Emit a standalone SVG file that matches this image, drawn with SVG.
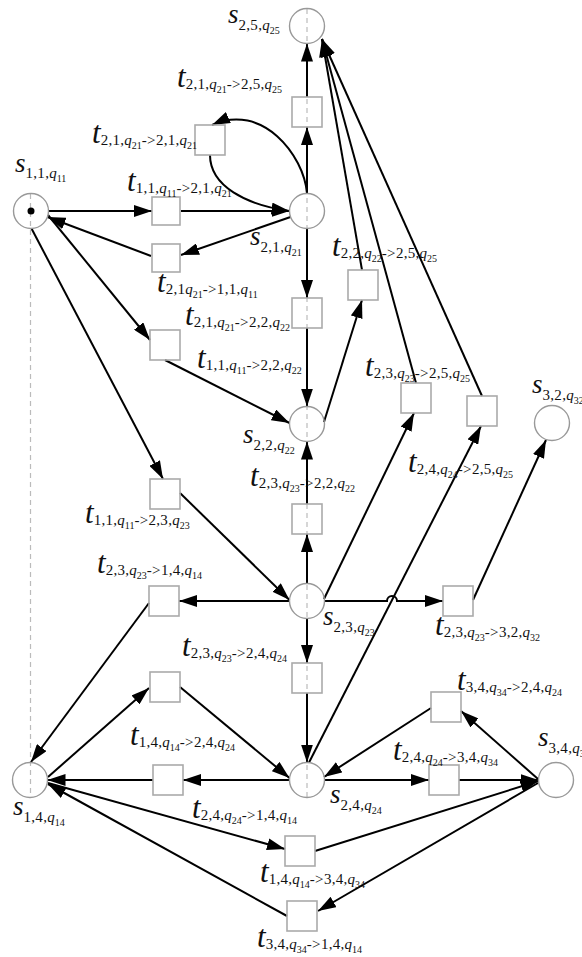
<svg xmlns="http://www.w3.org/2000/svg" width="582" height="957" viewBox="0 0 582 957">
<style>
.pl{fill:none;stroke:#999;stroke-width:1.4}
.tr{fill:none;stroke:#aaa;stroke-width:1.6}
.ar{fill:none;stroke:#000;stroke-width:2;marker-end:url(#ah)}
.dash{fill:none;stroke:#bbb;stroke-width:1.2;stroke-dasharray:5 4}
text{font-family:"Liberation Serif","Times New Roman",serif;fill:#111}
.m{font-size:27px;font-style:italic}
.tt{font-size:31px;font-style:italic}
.u{font-size:15px;font-style:normal;letter-spacing:0.3px}
.i{font-size:15px;font-style:italic}
.v{font-size:10px;font-style:normal}
</style>
<defs>
<marker id="ah" viewBox="0 0 18 12" refX="18" refY="6" markerWidth="18" markerHeight="12" markerUnits="userSpaceOnUse" orient="auto"><path d="M0,0 L18,6 L0,12 z" fill="#000"/></marker>
</defs>
<g id="guides">
<line class="dash" x1="307" y1="9" x2="307" y2="797"/>
<line class="dash" x1="30.5" y1="194" x2="30.5" y2="797"/>
</g>
<g id="connectors">
<line class="ar" x1="48.5" y1="211" x2="152" y2="211"/>
<line class="ar" x1="181" y1="211" x2="289.5" y2="211"/>
<line class="ar" x1="290.5" y1="217" x2="181" y2="255"/>
<line class="ar" x1="151" y1="256" x2="47.5" y2="217"/>
<line class="ar" x1="48" y1="215" x2="150" y2="340"/>
<line class="ar" x1="31.5" y1="228.5" x2="163" y2="479"/>
<line class="ar" x1="165" y1="360" x2="289.5" y2="423"/>
<line class="ar" x1="180" y1="493" x2="289.5" y2="600"/>
<path class="ar" d="M307,193.5 C304,155 262,102 212,125"/>
<path class="ar" d="M210,155 C210,186 246,205 289.5,211"/>
<line class="ar" x1="307" y1="193.5" x2="307" y2="127"/>
<line class="ar" x1="307" y1="97" x2="307" y2="43.5"/>
<line class="ar" x1="307" y1="228.5" x2="307" y2="298"/>
<line class="ar" x1="307" y1="328" x2="307" y2="406.5"/>
<line class="ar" x1="324" y1="422" x2="362" y2="300"/>
<line class="ar" x1="362" y1="270" x2="322" y2="39"/>
<line class="ar" x1="416" y1="383" x2="322" y2="39"/>
<line class="ar" x1="482" y1="396" x2="322" y2="39"/>
<line class="ar" x1="307" y1="583.5" x2="307" y2="534"/>
<line class="ar" x1="307" y1="504" x2="307" y2="441.5"/>
<line class="ar" x1="324" y1="599" x2="414" y2="413"/>
<line class="ar" x1="309" y1="762.5" x2="481" y2="426"/>
<line class="ar" x1="289.5" y1="601" x2="179" y2="601"/>
<path class="ar" d="M324.5,601 H387 a5,5 0 0 1 10,0 H443"/>
<line class="ar" x1="473" y1="600" x2="546" y2="440"/>
<line class="ar" x1="307" y1="618.5" x2="307" y2="663"/>
<line class="ar" x1="307" y1="693" x2="307" y2="762.5"/>
<line class="ar" x1="149" y1="603" x2="31" y2="762"/>
<line class="ar" x1="48" y1="777" x2="149" y2="688"/>
<line class="ar" x1="180" y1="687" x2="289.5" y2="778"/>
<line class="ar" x1="289.5" y1="780" x2="183" y2="780"/>
<line class="ar" x1="153" y1="780" x2="47.5" y2="780"/>
<line class="ar" x1="324.5" y1="780" x2="429" y2="780"/>
<line class="ar" x1="459" y1="780" x2="538.5" y2="780"/>
<line class="ar" x1="538" y1="779" x2="461" y2="711"/>
<line class="ar" x1="431" y1="708" x2="324" y2="777"/>
<line class="ar" x1="48" y1="783" x2="285" y2="849"/>
<line class="ar" x1="315" y1="851" x2="538.5" y2="781"/>
<line class="ar" x1="538" y1="783" x2="318" y2="911"/>
<line class="ar" x1="287" y1="916" x2="48" y2="784"/>
</g>
<g id="s11"><circle class="pl" cx="31" cy="211" r="17.5"/><circle cx="31" cy="211" r="3.5" fill="#000"/>
<text x="15" y="172"><tspan class="m">s</tspan><tspan class="u" dy="6">1,1,</tspan><tspan class="i">q</tspan><tspan class="v" dy="4">11</tspan></text></g>
<g id="s25"><circle class="pl" cx="307" cy="26" r="17.5"/>
<text x="228" y="23"><tspan class="m">s</tspan><tspan class="u" dy="7">2,5,</tspan><tspan class="i">q</tspan><tspan class="v" dy="4">25</tspan></text></g>
<g id="s21"><circle class="pl" cx="307" cy="211" r="17.5"/>
<text x="250" y="245"><tspan class="m">s</tspan><tspan class="u" dy="7">2,1,</tspan><tspan class="i">q</tspan><tspan class="v" dy="4">21</tspan></text></g>
<g id="s22"><circle class="pl" cx="307" cy="424" r="17.5"/>
<text x="243" y="443"><tspan class="m">s</tspan><tspan class="u" dy="7">2,2,</tspan><tspan class="i">q</tspan><tspan class="v" dy="4">22</tspan></text></g>
<g id="s23"><circle class="pl" cx="307" cy="601" r="17.5"/>
<text x="323" y="625"><tspan class="m">s</tspan><tspan class="u" dy="7">2,3,</tspan><tspan class="i">q</tspan><tspan class="v" dy="4">23</tspan></text></g>
<g id="s24"><circle class="pl" cx="307" cy="780" r="17.5"/>
<text x="330" y="803"><tspan class="m">s</tspan><tspan class="u" dy="7">2,4,</tspan><tspan class="i">q</tspan><tspan class="v" dy="4">24</tspan></text></g>
<g id="s14"><circle class="pl" cx="30" cy="780" r="17.5"/>
<text x="13" y="815"><tspan class="m">s</tspan><tspan class="u" dy="7">1,4,</tspan><tspan class="i">q</tspan><tspan class="v" dy="4">14</tspan></text></g>
<g id="s32"><circle class="pl" cx="552" cy="423" r="17.5"/>
<text x="532" y="393"><tspan class="m">s</tspan><tspan class="u" dy="7">3,2,</tspan><tspan class="i">q</tspan><tspan class="v" dy="4">32</tspan></text></g>
<g id="s34"><circle class="pl" cx="556" cy="780" r="17.5"/>
<text x="538" y="746"><tspan class="m">s</tspan><tspan class="u" dy="7">3,4,</tspan><tspan class="i">q</tspan><tspan class="v" dy="4">34</tspan></text></g>
<g id="t11_21"><rect class="tr" x="152" y="197" width="28" height="28"/>
<text x="127" y="191"><tspan class="tt">t</tspan><tspan class="u" dy="2">1,1,</tspan><tspan class="i">q</tspan><tspan class="v" dy="4">11</tspan><tspan class="u" dy="-4">-&gt;2,1,</tspan><tspan class="i">q</tspan><tspan class="v" dy="4">21</tspan></text></g>
<g id="t21_21"><rect class="tr" x="195" y="125" width="30" height="30"/>
<text x="92" y="143"><tspan class="tt">t</tspan><tspan class="u" dy="2">2,1,</tspan><tspan class="i">q</tspan><tspan class="v" dy="4">21</tspan><tspan class="u" dy="-4">-&gt;2,1,</tspan><tspan class="i">q</tspan><tspan class="v" dy="4">21</tspan></text></g>
<g id="t21_25"><rect class="tr" x="292" y="97" width="30" height="30"/>
<text x="177" y="87"><tspan class="tt">t</tspan><tspan class="u" dy="2">2,1,</tspan><tspan class="i">q</tspan><tspan class="v" dy="4">21</tspan><tspan class="u" dy="-4">-&gt;2,5,</tspan><tspan class="i">q</tspan><tspan class="v" dy="4">25</tspan></text></g>
<g id="t21_11"><rect class="tr" x="152" y="244" width="28" height="28"/>
<text x="157" y="292"><tspan class="tt">t</tspan><tspan class="u" dy="2">2,1</tspan><tspan class="i">q</tspan><tspan class="v" dy="4">21</tspan><tspan class="u" dy="-4">-&gt;1,1,</tspan><tspan class="i">q</tspan><tspan class="v" dy="4">11</tspan></text></g>
<g id="t21_22"><rect class="tr" x="292" y="298" width="30" height="30"/>
<text x="185" y="325"><tspan class="tt">t</tspan><tspan class="u" dy="2">2,1,</tspan><tspan class="i">q</tspan><tspan class="v" dy="4">21</tspan><tspan class="u" dy="-4">-&gt;2,2,</tspan><tspan class="i">q</tspan><tspan class="v" dy="4">22</tspan></text></g>
<g id="t22_25"><rect class="tr" x="348" y="270" width="30" height="30"/>
<text x="332" y="256"><tspan class="tt">t</tspan><tspan class="u" dy="2">2,2,</tspan><tspan class="i">q</tspan><tspan class="v" dy="4">22</tspan><tspan class="u" dy="-4">-&gt;2,5,</tspan><tspan class="i">q</tspan><tspan class="v" dy="4">25</tspan></text></g>
<g id="t11_22"><rect class="tr" x="150" y="330" width="30" height="30"/>
<text x="197" y="368"><tspan class="tt">t</tspan><tspan class="u" dy="2">1,1,</tspan><tspan class="i">q</tspan><tspan class="v" dy="4">11</tspan><tspan class="u" dy="-4">-&gt;2,2,</tspan><tspan class="i">q</tspan><tspan class="v" dy="4">22</tspan></text></g>
<g id="t23_25"><rect class="tr" x="401" y="383" width="30" height="30"/>
<text x="365" y="376"><tspan class="tt">t</tspan><tspan class="u" dy="2">2,3,</tspan><tspan class="i">q</tspan><tspan class="v" dy="4">23</tspan><tspan class="u" dy="-4">-&gt;2,5,</tspan><tspan class="i">q</tspan><tspan class="v" dy="4">25</tspan></text></g>
<g id="t24_25"><rect class="tr" x="467" y="396" width="30" height="30"/>
<text x="408" y="472"><tspan class="tt">t</tspan><tspan class="u" dy="2">2,4,</tspan><tspan class="i">q</tspan><tspan class="v" dy="4">24</tspan><tspan class="u" dy="-4">-&gt;2,5,</tspan><tspan class="i">q</tspan><tspan class="v" dy="4">25</tspan></text></g>
<g id="t11_23"><rect class="tr" x="150" y="479" width="30" height="30"/>
<text x="85" y="523"><tspan class="tt">t</tspan><tspan class="u" dy="2">1,1,</tspan><tspan class="i">q</tspan><tspan class="v" dy="4">11</tspan><tspan class="u" dy="-4">-&gt;2,3,</tspan><tspan class="i">q</tspan><tspan class="v" dy="4">23</tspan></text></g>
<g id="t23_22"><rect class="tr" x="292" y="504" width="30" height="30"/>
<text x="250" y="486"><tspan class="tt">t</tspan><tspan class="u" dy="2">2,3,</tspan><tspan class="i">q</tspan><tspan class="v" dy="4">23</tspan><tspan class="u" dy="-4">-&gt;2,2,</tspan><tspan class="i">q</tspan><tspan class="v" dy="4">22</tspan></text></g>
<g id="t23_14"><rect class="tr" x="149" y="586" width="30" height="30"/>
<text x="97" y="573"><tspan class="tt">t</tspan><tspan class="u" dy="2">2,3,</tspan><tspan class="i">q</tspan><tspan class="v" dy="4">23</tspan><tspan class="u" dy="-4">-&gt;1,4,</tspan><tspan class="i">q</tspan><tspan class="v" dy="4">14</tspan></text></g>
<g id="t23_32"><rect class="tr" x="443" y="586" width="30" height="30"/>
<text x="435" y="635"><tspan class="tt">t</tspan><tspan class="u" dy="2">2,3,</tspan><tspan class="i">q</tspan><tspan class="v" dy="4">23</tspan><tspan class="u" dy="-4">-&gt;3,2,</tspan><tspan class="i">q</tspan><tspan class="v" dy="4">32</tspan></text></g>
<g id="t23_24"><rect class="tr" x="292" y="663" width="30" height="30"/>
<text x="182" y="656"><tspan class="tt">t</tspan><tspan class="u" dy="2">2,3,</tspan><tspan class="i">q</tspan><tspan class="v" dy="4">23</tspan><tspan class="u" dy="-4">-&gt;2,4,</tspan><tspan class="i">q</tspan><tspan class="v" dy="4">24</tspan></text></g>
<g id="t14_24"><rect class="tr" x="150" y="672" width="30" height="30"/>
<text x="130" y="745"><tspan class="tt">t</tspan><tspan class="u" dy="2">1,4,</tspan><tspan class="i">q</tspan><tspan class="v" dy="4">14</tspan><tspan class="u" dy="-4">-&gt;2,4,</tspan><tspan class="i">q</tspan><tspan class="v" dy="4">24</tspan></text></g>
<g id="t34_24"><rect class="tr" x="431" y="692" width="30" height="30"/>
<text x="457" y="690"><tspan class="tt">t</tspan><tspan class="u" dy="2">3,4,</tspan><tspan class="i">q</tspan><tspan class="v" dy="4">34</tspan><tspan class="u" dy="-4">-&gt;2,4,</tspan><tspan class="i">q</tspan><tspan class="v" dy="4">24</tspan></text></g>
<g id="t24_14"><rect class="tr" x="153" y="765" width="30" height="30"/>
<text x="192" y="818"><tspan class="tt">t</tspan><tspan class="u" dy="2">2,4,</tspan><tspan class="i">q</tspan><tspan class="v" dy="4">24</tspan><tspan class="u" dy="-4">-&gt;1,4,</tspan><tspan class="i">q</tspan><tspan class="v" dy="4">14</tspan></text></g>
<g id="t24_34"><rect class="tr" x="429" y="765" width="30" height="30"/>
<text x="393" y="760"><tspan class="tt">t</tspan><tspan class="u" dy="2">2,4,</tspan><tspan class="i">q</tspan><tspan class="v" dy="4">24</tspan><tspan class="u" dy="-4">-&gt;3,4,</tspan><tspan class="i">q</tspan><tspan class="v" dy="4">34</tspan></text></g>
<g id="t14_34"><rect class="tr" x="285" y="836" width="30" height="30"/>
<text x="260" y="882"><tspan class="tt">t</tspan><tspan class="u" dy="2">1,4,</tspan><tspan class="i">q</tspan><tspan class="v" dy="4">14</tspan><tspan class="u" dy="-4">-&gt;3,4,</tspan><tspan class="i">q</tspan><tspan class="v" dy="4">34</tspan></text></g>
<g id="t34_14"><rect class="tr" x="287" y="901" width="30" height="30"/>
<text x="257" y="947"><tspan class="tt">t</tspan><tspan class="u" dy="2">3,4,</tspan><tspan class="i">q</tspan><tspan class="v" dy="4">34</tspan><tspan class="u" dy="-4">-&gt;1,4,</tspan><tspan class="i">q</tspan><tspan class="v" dy="4">14</tspan></text></g>
</svg>
